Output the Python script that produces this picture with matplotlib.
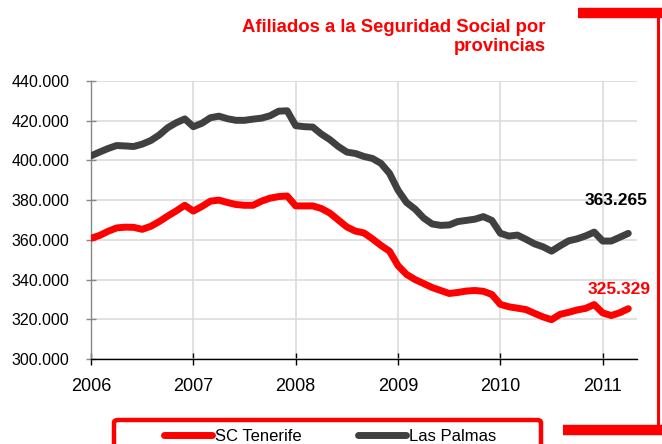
import matplotlib
matplotlib.use("Agg")
import matplotlib.pyplot as plt
from matplotlib.lines import Line2D
from matplotlib.patches import FancyBboxPatch
import numpy as np

plt.rcParams['font.family'] = ['Liberation Sans', 'DejaVu Sans']

# Monthly data, Jan 2006 - Apr 2011 (thousands of affiliates)
start_year = 2006
years = [2006, 2007, 2008, 2009, 2010, 2011]
series_names = ["SC Tenerife", "Las Palmas"]

sc_tenerife = [
    360.8, 362.2, 364.3, 366.0, 366.4, 366.3, 365.3, 366.8, 369.2, 372.0, 374.6, 377.4,
    374.5, 376.8, 379.5, 380.0, 378.8, 377.8, 377.4, 377.4, 379.5, 381.0, 381.8, 382.1,
    377.1, 377.1, 377.1, 375.8, 373.5, 370.0, 366.5, 364.4, 363.5, 360.5, 357.2, 354.3,
    347.0, 342.6, 340.0, 338.0, 336.0, 334.5, 333.0, 333.5, 334.2, 334.5, 334.1, 332.5,
    327.5, 326.3, 325.6, 324.9, 323.0, 321.2, 319.8, 322.5, 323.5, 324.7, 325.5, 327.4,
    323.2, 321.9, 323.3, 325.329,
]
las_palmas = [
    402.3, 404.2, 406.0, 407.5, 407.3, 407.0, 408.2, 410.0, 412.8, 416.5, 419.0, 420.9,
    417.0, 418.7, 421.5, 422.3, 421.0, 420.2, 420.2, 420.8, 421.3, 422.5, 424.8, 425.0,
    417.5, 417.0, 416.8, 413.3, 410.5, 407.0, 404.2, 403.5, 402.0, 401.0, 398.5, 393.5,
    385.0, 378.8, 375.5, 371.0, 368.0, 367.3, 367.5, 369.2, 369.8, 370.4, 371.7, 369.8,
    363.3, 361.9, 362.4, 360.3, 358.0, 356.5, 354.3, 357.0, 359.5, 360.5, 362.0, 363.9,
    359.4, 359.4, 361.3, 363.265,
]
y_ticks = [300, 320, 340, 360, 380, 400, 420, 440]
title = "Afiliados a la Seguridad Social por\nprovincias"

W, H = 662, 444
fig = plt.figure(figsize=(W / 100, H / 100), dpi=100)
ax = fig.add_axes([91 / W, 1 - 359 / H, 546 / W, 278 / H])

x = start_year + np.arange(len(sc_tenerife)) / 12.0
red = "#ff0000"
gray = "#404040"
l1, = ax.plot(x, sc_tenerife, color=red, lw=5.0, solid_capstyle="round", solid_joinstyle="round", zorder=3)
l2, = ax.plot(x, las_palmas, color=gray, lw=5.0, solid_capstyle="round", solid_joinstyle="round", zorder=3)

ax.set_ylim(300, 440)
ax.set_xlim(2006, 2011.335)
ax.set_yticks(y_ticks)
ax.set_yticklabels([f"{v:.3f}" for v in y_ticks])
ax.set_xticks(years)
ax.set_xticklabels([str(y) for y in years])
ax.grid(True, color="#d9d9d9", lw=1.1, zorder=0)
ax.set_axisbelow(True)
for s in ["top", "right"]:
    ax.spines[s].set_visible(False)
ax.spines["left"].set_color("#888888")
ax.spines["left"].set_linewidth(1.0)
ax.spines["bottom"].set_color("#000000")
ax.spines["bottom"].set_linewidth(1.0)
ax.tick_params(axis="y", direction="inout", length=7, width=1, color="#888888",
               labelsize=11.5, pad=12, labelcolor="#000000")
ax.tick_params(axis="x", direction="inout", length=9, width=1, color="#000000",
               labelsize=13, pad=9)

# End labels
ax.annotate(f"{las_palmas[-1]:.3f}", xy=(x[-1], las_palmas[-1]), xytext=(14, 24),
            textcoords="offset points", ha="right", va="center",
            fontsize=12.5, fontweight="bold", color="#000000")
ax.annotate(f"{sc_tenerife[-1]:.3f}", xy=(x[-1], sc_tenerife[-1]), xytext=(16, 14),
            textcoords="offset points", ha="right", va="center",
            fontsize=12.5, fontweight="bold", color=red)

# Title
fig.text(546 / W, 1 - 37 / H, title, ha="right", va="center", color=red,
         fontsize=13.3, fontweight="bold", linespacing=1.1)

# Legend
fig.legend([l1, l2], series_names, loc="center", bbox_to_anchor=(330 / W, 1 - 436 / H),
           ncol=2, frameon=False, fontsize=12, handlelength=2.9, handletextpad=0.15,
           columnspacing=3.4, borderpad=0)
box = FancyBboxPatch((114 / W, -10 / H), 427 / W, (444 - 420 + 10) / H,
                     boxstyle="round,pad=0,rounding_size=0.006", transform=fig.transFigure,
                     fill=False, edgecolor=red, lw=3.2, clip_on=False)
fig.patches.append(box)

# Decorative red bracket
def fl(x0, y0, x1, y1, lw):
    fig.lines.append(Line2D([x0 / W, x1 / W], [1 - y0 / H, 1 - y1 / H], transform=fig.transFigure,
                            color=red, lw=lw, solid_capstyle="butt"))

fl(578, 13.5, 662, 13.5, 7.5)
fl(657.5, 10, 657.5, 434, 2.2)
fl(563, 430, 662, 430, 7.5)

fig.savefig("out.png", dpi=100)
